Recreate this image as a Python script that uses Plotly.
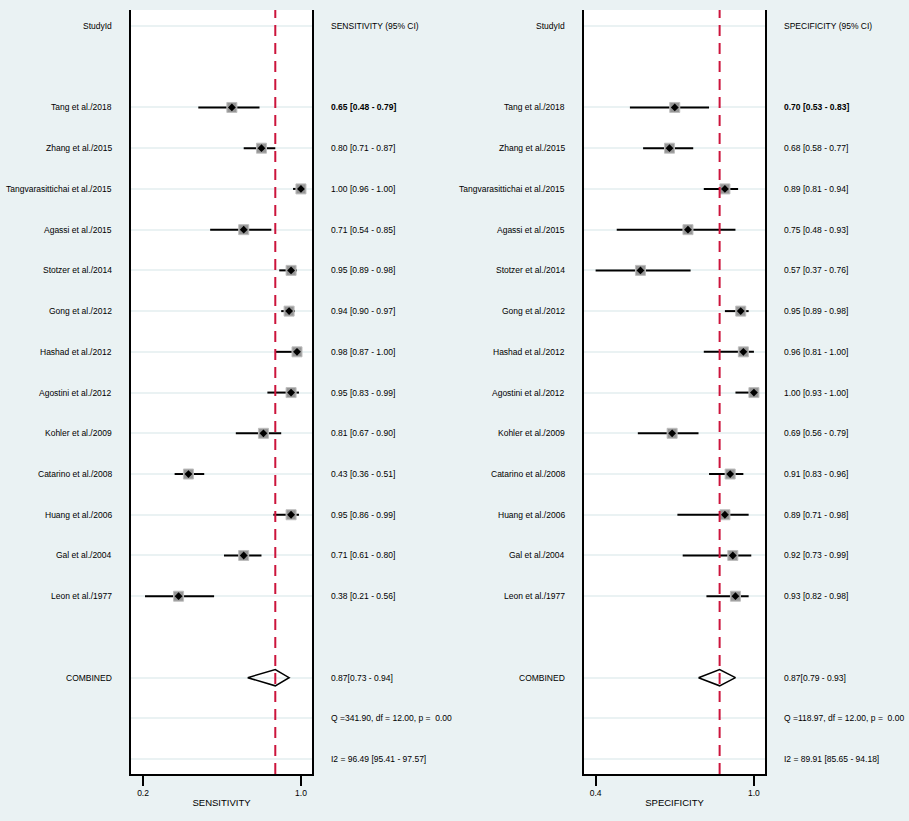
import numpy as np
import plotly.graph_objects as go

# study data
studies = ['Tang et al./2018', 'Zhang et al./2015', 'Tangvarasittichai et al./2015',
           'Agassi et al./2015', 'Stotzer et al./2014', 'Gong et al./2012',
           'Hashad et al./2012', 'Agostini et al./2012', 'Kohler et al./2009',
           'Catarino et al./2008', 'Huang et al./2006', 'Gal et al./2004', 'Leon et al./1977']

sens = [0.65, 0.80, 1.00, 0.71, 0.95, 0.94, 0.98, 0.95, 0.81, 0.43, 0.95, 0.71, 0.38]
sens_lo = [0.48, 0.71, 0.96, 0.54, 0.89, 0.90, 0.87, 0.83, 0.67, 0.36, 0.86, 0.61, 0.21]
sens_hi = [0.79, 0.87, 1.00, 0.85, 0.98, 0.97, 1.00, 0.99, 0.90, 0.51, 0.99, 0.80, 0.56]

spec = [0.70, 0.68, 0.89, 0.75, 0.57, 0.95, 0.96, 1.00, 0.69, 0.91, 0.89, 0.92, 0.93]
spec_lo = [0.53, 0.58, 0.81, 0.48, 0.37, 0.89, 0.81, 0.93, 0.56, 0.83, 0.71, 0.73, 0.82]
spec_hi = [0.83, 0.77, 0.94, 0.93, 0.76, 0.98, 1.00, 1.00, 0.79, 0.96, 0.98, 0.99, 0.98]

# pooled estimates and heterogeneity
sens_pooled = [0.87, 0.73, 0.94]
spec_pooled = [0.87, 0.79, 0.93]
sens_q = 'Q =341.90, df = 12.00, p =  0.00'
spec_q = 'Q =118.97, df = 12.00, p =  0.00'
sens_i2 = 'I2 = 96.49 [95.41 - 97.57]'
spec_i2 = 'I2 = 89.91 [85.65 - 94.18]'

sens_ticks = [0.2, 1.0]
spec_ticks = [0.4, 1.0]

W, H = 909, 821
BG = 'rgb(234,242,243)'
RED = 'rgb(204,20,60)'
FONT = 'Liberation Sans, Arial'
FS = 8.5

# row layout: 0 header, 2..14 studies, 16 combined, 17 Q, 18 I2
study_rows = list(range(2, 2 + len(studies)))
row_comb, row_q, row_i2 = 16, 17, 18
grid_rows = [0] + study_rows + [row_comb, row_q, row_i2]

def px(x):
    return x / W

panels = [
    dict(x='x', y='y', est=sens, lo=sens_lo, hi=sens_hi, pooled=sens_pooled,
         q=sens_q, i2=sens_i2, ticks=sens_ticks, rng=[0.139, 1.056],
         dom=[px(131), px(312)], lab_x=px(114), txt_x=px(329),
         head='SENSITIVITY (95% CI)', title='SENSITIVITY'),
    dict(x='x2', y='y2', est=spec, lo=spec_lo, hi=spec_hi, pooled=spec_pooled,
         q=spec_q, i2=spec_i2, ticks=spec_ticks, rng=[0.356, 1.042],
         dom=[px(584), px(765)], lab_x=px(567), txt_x=px(782),
         head='SPECIFICITY (95% CI)', title='SPECIFICITY'),
]

fig = go.Figure()
annotations = []
y_top = (H - 10) / H
y_bot = (H - 774) / H
y_range = [18.365, -0.393]

for i, p in enumerate(panels):
    est = np.array(p['est'])
    lo = np.clip(np.array(p['lo']), p['ticks'][0], None)
    hi = np.array(p['hi'])

    # confidence intervals
    fig.add_trace(go.Scatter(
        x=est, y=study_rows, mode='markers', xaxis=p['x'], yaxis=p['y'],
        marker=dict(symbol='square', size=10, color='rgb(150,150,150)',
                    line=dict(color='rgb(190,190,190)', width=1)),
        error_x=dict(type='data', symmetric=False, array=hi - est,
                     arrayminus=est - lo, width=0, thickness=2, color='black'),
        showlegend=False, hoverinfo='skip'))
    fig.add_trace(go.Scatter(
        x=est, y=study_rows, mode='markers', xaxis=p['x'], yaxis=p['y'],
        marker=dict(symbol='diamond', size=6, color='black'),
        showlegend=False, hoverinfo='skip'))

    # pooled diamond
    pe, plo, phi = p['pooled']
    h = 0.2
    fig.add_trace(go.Scatter(
        x=[plo, pe, phi, pe, plo], y=[row_comb, row_comb - h, row_comb, row_comb + h, row_comb],
        mode='lines', line=dict(color='black', width=1.5), xaxis=p['x'], yaxis=p['y'],
        showlegend=False, hoverinfo='skip'))

    # pooled reference line
    fig.add_trace(go.Scatter(
        x=[pe, pe], y=[y_range[0], y_range[1]], mode='lines',
        line=dict(color=RED, width=2, dash='11px,7px'), xaxis=p['x'], yaxis=p['y'],
        showlegend=False, hoverinfo='skip'))

    # text columns
    left_labels = ['StudyId'] + studies + ['COMBINED']
    left_rows = [0] + study_rows + [row_comb]
    for lab, r in zip(left_labels, left_rows):
        annotations.append(dict(text=lab, x=p['lab_x'], xref='paper', xanchor='right',
                                y=r, yref=p['y'], showarrow=False,
                                font=dict(size=FS, color='black', family=FONT)))
    right_txt = [p['head']]
    for j, (e, l, u) in enumerate(zip(p['est'], p['lo'], p['hi'])):
        s = f'{e:.2f} [{l:.2f} - {u:.2f}]'
        right_txt.append(f'<b>{s}</b>' if j == 0 else s)
    right_txt += [f'{pe:.2f}[{plo:.2f} - {phi:.2f}]', p['q'], p['i2']]
    right_rows = [0] + study_rows + [row_comb, row_q, row_i2]
    for t, r in zip(right_txt, right_rows):
        annotations.append(dict(text=t, x=p['txt_x'], xref='paper', xanchor='left',
                                y=r, yref=p['y'], showarrow=False,
                                font=dict(size=FS, color='black', family=FONT)))

    xa = dict(domain=p['dom'], range=p['rng'], anchor=p['y'], tickvals=p['ticks'],
              ticktext=[f'{t:.1f}' for t in p['ticks']], ticks='outside', ticklen=10,
              tickwidth=2, tickcolor='black', showline=True, linecolor='black',
              linewidth=2, showgrid=False, zeroline=False,
              tickfont=dict(size=FS, family=FONT, color='black'),
              title=dict(text=p['title'], font=dict(size=9.5, family=FONT, color='black'),
                         standoff=2))
    ya = dict(domain=[y_bot, y_top], range=y_range, anchor=p['x'], tickvals=grid_rows,
              showticklabels=False, ticks='', showgrid=True, gridcolor=BG, gridwidth=2,
              showline=True, mirror=True, linecolor='black', linewidth=2, zeroline=False)
    key = '' if i == 0 else '2'
    fig.layout['xaxis' + key] = xa
    fig.layout['yaxis' + key] = ya

fig.update_layout(
    width=W, height=H, margin=dict(l=0, r=0, t=0, b=0),
    paper_bgcolor=BG, plot_bgcolor='white',
    annotations=annotations, font=dict(family=FONT, color='black'))

# drop the page's default body margin so the figure fills the window
fig.write_html('out.html', config={'displayModeBar': False},
               post_script="document.body.style.margin='0';document.body.style.overflow='hidden';")
